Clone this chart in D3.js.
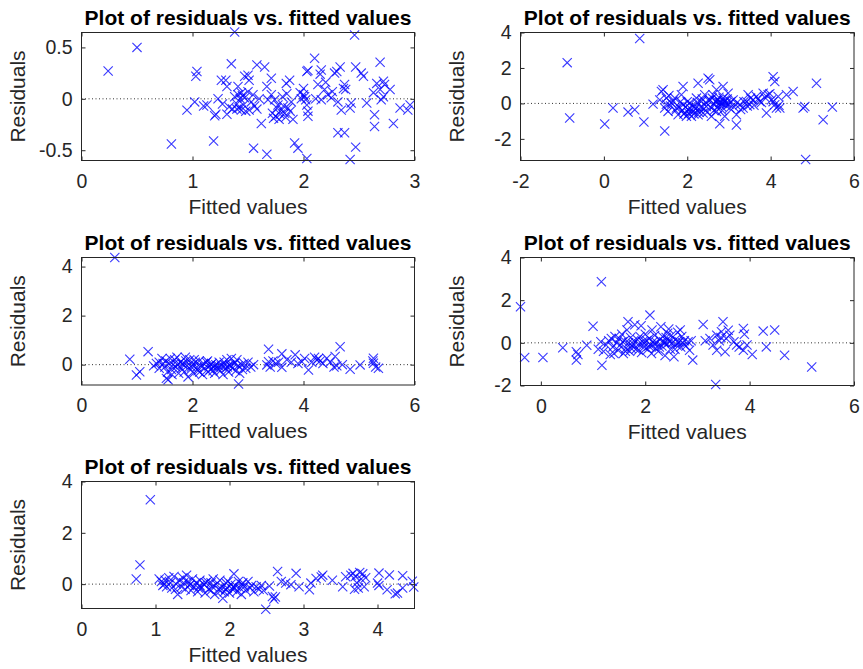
<!DOCTYPE html>
<html>
<head>
<meta charset="utf-8">
<script src="https://cdn.jsdelivr.net/npm/d3@7"></script>
<style>
body { margin: 0; background: #fff; }
svg { display: block; font-family: "Liberation Sans", Arial, Helvetica, sans-serif; }
</style>
</head>
<body>
<div id="chart"></div>
<script>
'use strict';

// fitted value, residual pairs
const resid1 = [
  [0.24,0.27],[0.50,0.50],[0.81,-0.44],[0.95,-0.11],[1.03,0.22],[1.04,0.265],[1.02,-0.03],[1.10,-0.07],[1.13,-0.06],
  [1.19,-0.41],[1.20,-0.165],[1.21,-0.15],[1.23,0.0],[1.26,0.18],[1.30,0.18],[1.31,0.12],[1.31,-0.15],[1.35,0.34],
  [1.38,0.65],[1.41,0.12],[1.27,-0.05],[1.33,-0.08],[1.36,-0.1],[1.38,0.02],[1.40,-0.05],[1.41,0.04],[1.42,-0.09],
  [1.43,0.0],[1.44,-0.11],[1.45,0.03],[1.46,-0.06],[1.47,0.01],[1.48,-0.12],[1.40,-0.1],[1.44,0.06],[1.47,0.22],
  [1.50,0.23],[1.50,0.07],[1.51,-0.11],[1.53,-0.03],[1.545,0.04],[1.56,-0.07],[1.58,0.33],[1.51,0.18],[1.55,-0.48],
  [1.58,-0.1],[1.60,0.0],[1.62,-0.24],[1.67,-0.54],[1.65,0.31],[1.71,0.2],[1.67,0.12],[1.68,-0.01],[1.71,0.04],
  [1.74,-0.01],[1.77,-0.06],[1.80,-0.11],[1.83,-0.14],[1.75,-0.17],[1.78,-0.2],[1.72,-0.14],[1.86,-0.09],[1.89,-0.03],
  [1.81,0.02],[1.85,0.05],[1.76,-0.09],[1.79,-0.15],[1.82,-0.07],[1.84,-0.18],[1.73,-0.19],[1.875,0.18],[1.845,0.15],
  [1.905,-0.2],[1.88,-0.12],[1.92,-0.43],[1.95,-0.48],[2.0,0.1],[2.0,0.04],[2.01,0.02],[1.97,0.06],[1.98,0.0],
  [2.02,-0.01],[2.03,-0.06],[2.04,-0.12],[2.04,-0.17],[2.03,0.265],[2.04,0.275],[2.10,0.395],[2.03,-0.58],[2.13,0.14],
  [2.16,0.28],[2.15,0.24],[2.19,0.09],[2.22,0.04],[2.16,-0.01],[2.25,0.01],[2.28,0.25],[2.30,0.265],[2.33,0.31],
  [2.31,-0.03],[2.34,-0.11],[2.36,0.1],[2.37,0.14],[2.31,-0.33],[2.37,-0.33],[2.42,-0.09],[2.43,-0.04],[2.46,0.62],
  [2.47,0.31],[2.47,-0.47],[2.42,-0.59],[2.52,0.25],[2.54,0.22],[2.57,-0.04],[2.63,0.06],[2.64,-0.155],[2.64,-0.27],
  [2.66,0.15],[2.69,0.356],[2.69,0.09],[2.70,-0.01],[2.72,0.02],[2.72,0.17],[2.73,0.14],[2.78,0.09],[2.81,-0.24],
  [2.87,-0.09],[2.94,-0.11],[2.96,-0.06],[2.38,0.09],[2.20,0.16],[2.26,0.07],[2.11,0.0]
];

const resid2 = [
  [0.86,3.66],[-0.88,2.3],[-0.82,-0.82],[0.22,-0.26],[0.02,-1.16],[0.58,-0.49],[0.74,-0.36],[0.96,-1.05],[1.46,-1.56],
  [4.82,-0.17],[4.78,-0.26],[5.10,1.14],[5.48,-0.2],[5.26,-0.92],[4.84,-3.16],[3.18,-1.22],[2.78,-1.15],
  [1.18,-0.04],[1.34,0.2],[1.42,0.77],[1.38,0.67],[1.50,0.3],[1.46,-0.26],[1.54,-0.45],[1.62,0.02],[1.70,0.3],
  [1.74,-0.26],[1.78,-0.64],[1.90,0.95],[1.86,0.49],[1.90,-0.07],[1.94,-0.54],[1.98,-0.73],[2.02,-0.36],[2.06,0.02],
  [2.10,-0.73],[2.14,-0.45],[2.18,-0.17],[2.22,0.3],[2.26,1.14],[2.26,-0.64],[2.30,-0.36],[2.34,0.11],[2.38,-0.54],
  [2.42,0.49],[2.46,-0.17],[2.50,1.42],[2.54,1.33],[2.54,0.2],[2.58,-0.73],[2.62,0.49],[2.66,-0.07],[2.70,0.77],
  [2.70,-0.45],[2.74,0.2],[2.82,-0.17],[2.86,0.95],[2.86,0.3],[2.90,-0.73],[2.94,0.02],[2.98,0.58],[3.02,-0.26],
  [3.10,0.2],[3.18,-0.64],[3.26,-0.07],[3.34,-0.26],[3.42,0.11],[3.46,0.49],[3.50,-0.07],[3.58,0.2],[3.66,0.39],
  [3.74,0.11],[3.82,0.58],[3.90,-0.54],[3.94,0.49],[4.02,0.2],[4.06,1.51],[4.10,1.23],[4.10,-0.07],[4.14,-0.26],
  [4.22,-0.26],[4.18,0.39],[4.38,0.49],[4.54,0.67],
  [1.60,-0.15],[1.66,0.12],[1.72,-0.4],[1.80,-0.2],[1.84,0.1],[1.88,-0.38],[1.92,-0.6],[1.96,-0.2],[2.00,0.1],
  [2.04,-0.55],[2.08,-0.3],[2.12,-0.1],[2.16,-0.6],[2.20,-0.3],[2.24,0.05],[2.28,-0.5],[2.32,-0.2],[2.36,0.25],
  [2.40,-0.3],[2.44,0.05],[2.48,-0.5],[2.52,0.15],[2.56,-0.2],[2.60,0.3],[2.64,-0.4],[2.68,0.1],[2.72,-0.25],
  [2.76,0.35],[2.80,0.05],[2.84,-0.4],[2.88,0.15],[2.92,-0.1],[2.96,0.25],[3.00,-0.05],[3.05,0.1],[3.12,-0.2],
  [3.20,0.05],[3.28,-0.35],[3.36,0.1],[3.44,-0.15],[3.52,0.3],[3.60,-0.1],[3.70,0.25],[3.78,0.05],[3.86,0.35],
  [3.98,0.55],[4.06,0.1],[4.20,-0.1],[1.50,-0.05],[1.56,0.45],[2.70,0.15],[2.90,0.1],[2.85,0.0],[2.78,0.05]
];

const resid3 = [
  [0.60,4.37],[0.87,0.22],[1.20,0.53],[1.05,-0.29],[0.99,-0.42],[1.53,-0.56],[1.56,-0.62],[2.83,-0.79],
  [1.30,-0.05],[1.35,0.05],[1.40,-0.15],[1.45,0.25],[1.50,-0.1],[1.52,0.15],[1.55,-0.3],[1.58,0.05],[1.60,0.25],
  [1.62,-0.2],[1.65,0.0],[1.68,0.2],[1.70,-0.1],[1.72,0.3],[1.75,-0.35],[1.78,0.1],[1.80,-0.15],[1.82,0.05],
  [1.85,-0.3],[1.88,0.15],[1.90,-0.05],[1.92,-0.5],[1.95,0.2],[1.97,-0.2],[2.00,0.0],[2.02,-0.35],[2.05,0.1],
  [2.08,-0.1],[2.10,-0.25],[2.12,0.15],[2.15,-0.05],[2.18,-0.4],[2.20,0.05],[2.22,-0.15],[2.25,0.1],[2.28,-0.3],
  [2.30,-0.05],[2.32,-0.2],[2.35,0.05],[2.38,-0.1],[2.40,-0.35],[2.42,0.0],[2.45,-0.15],[2.48,0.1],[2.50,-0.25],
  [2.52,-0.05],[2.55,-0.4],[2.58,0.0],[2.60,-0.15],[2.62,0.2],[2.65,-0.3],[2.68,-0.05],[2.70,0.25],[2.72,-0.15],
  [2.75,0.05],[2.78,-0.25],[2.80,0.2],[2.82,-0.05],[2.85,-0.35],[2.88,0.0],[2.90,-0.2],[2.93,0.05],[2.96,-0.15],
  [3.00,0.1],[3.05,-0.1],[3.10,0.0],[1.47,0.05],[1.63,-0.4],[1.73,0.0],[1.87,0.3],[2.03,0.2],[2.13,-0.3],
  [2.27,0.15],[2.37,-0.25],[2.47,-0.05],[2.57,0.1],[2.67,0.0],[2.77,0.08],[2.63,-0.1],[2.33,0.0],[1.98,-0.1],
  [1.83,0.0],[1.40,0.1],
  [3.34,-0.01],[3.37,0.12],[3.37,0.63],[3.40,-0.1],[3.45,0.15],[3.55,0.1],[3.61,0.44],[3.61,-0.11],[3.70,0.2],
  [3.78,0.1],[3.85,0.4],[3.90,0.05],[3.97,0.12],[4.02,0.25],[4.09,-0.22],[4.15,0.1],[4.20,0.3],[4.24,0.19],
  [4.30,0.15],[4.35,0.05],[4.42,0.26],[4.48,0.1],[4.57,0.33],[4.60,-0.05],[4.66,0.73],[4.70,0.0],[4.84,-0.19],
  [5.02,-0.01],[5.26,0.26],[5.26,0.06],[5.30,-0.1],[5.35,-0.15],[5.25,0.15],[4.55,-0.1],[4.27,0.25],[3.50,0.05]
];

const resid4 = [
  [-0.39,1.69],[-0.31,-0.69],[0.04,-0.69],[0.42,-0.23],[0.68,-0.42],[0.68,-0.81],[0.71,-0.55],[0.88,-0.11],
  [1.00,0.78],[1.17,-1.05],[1.16,2.86],[2.09,1.3],[1.67,0.99],
  [1.10,-0.3],[1.15,0.05],[1.20,-0.4],[1.25,-0.1],[1.30,0.1],[1.33,-0.55],[1.38,-0.2],[1.42,0.3],[1.45,0.0],
  [1.48,-0.35],[1.50,0.2],[1.52,-0.1],[1.55,0.4],[1.58,-0.5],[1.60,0.1],[1.63,-0.25],[1.65,0.6],[1.68,0.0],
  [1.70,-0.4],[1.72,0.25],[1.75,-0.15],[1.78,0.1],[1.80,0.85],[1.82,-0.3],[1.85,0.15],[1.88,-0.05],[1.90,0.3],
  [1.93,-0.45],[1.95,0.05],[1.98,-0.2],[2.00,0.4],[2.03,0.1],[2.05,-0.3],[2.08,0.2],[2.10,-0.1],[2.12,-0.5],
  [2.15,0.05],[2.18,0.35],[2.20,-0.25],[2.22,0.0],[2.25,-0.4],[2.28,0.15],[2.30,0.75],[2.32,-0.15],[2.35,0.05],
  [2.38,-0.6],[2.40,0.25],[2.42,-0.05],[2.45,0.1],[2.48,-0.3],[2.50,0.35],[2.52,0.0],[2.55,-0.65],[2.58,0.15],
  [2.60,-0.1],[2.62,0.5],[2.65,0.05],[2.68,-0.2],[2.70,0.3],[2.72,0.0],[2.75,0.1],[2.78,-0.15],[2.82,0.05],
  [2.85,-0.35],[2.88,0.1],[1.35,0.2],[1.40,-0.5],[1.62,-0.4],[1.87,-0.35],[2.07,-0.15],[2.27,-0.2],[2.43,0.45],
  [2.57,-0.3],[2.67,0.6],[1.57,0.05],[1.77,-0.05],[1.97,0.0],[2.17,-0.05],[2.37,0.0],[2.47,0.05],[2.63,0.0],
  [1.73,-0.25],[2.33,0.3],[2.13,0.6],[1.92,0.8],[2.45,0.65],
  [3.11,0.86],[3.24,0.2],[3.30,-0.1],[3.37,0.36],[3.37,-0.35],[3.42,0.1],[3.46,0.52],[3.49,0.99],[3.53,-0.42],
  [3.59,0.59],[3.62,0.36],[3.55,0.2],[3.70,0.05],[3.75,-0.1],[3.80,-0.2],[3.88,0.67],[3.88,-0.35],[3.90,0.4],
  [3.95,-0.1],[4.05,-0.55],[4.26,0.55],[4.32,-0.19],[4.48,0.6],[4.67,-0.58],[5.19,-1.13],[3.35,-1.95],[2.91,-0.81],
  [3.15,0.1],[3.45,0.25]
];

const resid5 = [
  [0.93,3.29],[0.79,0.75],[0.74,0.2],[2.49,-0.98],[2.58,-0.48],[2.60,-0.58],[2.62,-0.5],[2.65,0.49],[2.90,0.42],
  [2.76,0.04],[2.83,-0.02],[2.94,-0.1],[2.70,0.1],[2.54,-0.07],[3.08,-0.22],[3.10,0.04],[3.17,0.22],[3.24,0.28],
  [3.26,0.35],[3.39,0.15],[3.53,-0.1],[3.57,0.29],[3.64,0.35],[3.67,0.42],[3.70,0.3],[3.72,0.05],[3.74,-0.15],
  [3.76,0.45],[3.78,0.2],[3.80,0.4],[3.82,-0.1],[3.84,0.25],[3.69,-0.2],[4.00,0.04],[4.02,0.43],[4.16,0.36],
  [4.13,-0.22],[4.27,-0.35],[4.34,0.33],[4.34,-0.15],[4.47,0.11],[4.49,-0.11],[4.24,-0.38],[4.02,-0.05],
  [1.05,0.2],[1.08,0.1],[1.10,-0.05],[1.13,0.15],[1.15,-0.1],[1.18,0.25],[1.20,0.05],[1.22,-0.15],[1.25,0.3],
  [1.28,0.0],[1.30,-0.4],[1.32,0.15],[1.35,-0.1],[1.38,0.05],[1.40,-0.2],[1.42,0.35],[1.44,0.1],[1.46,-0.05],
  [1.48,-0.25],[1.50,0.2],[1.52,-0.1],[1.55,0.05],[1.57,-0.3],[1.60,0.15],[1.62,-0.15],[1.65,0.0],[1.67,-0.35],
  [1.70,0.1],[1.72,-0.2],[1.75,0.05],[1.77,-0.1],[1.80,-0.4],[1.82,0.0],[1.85,-0.2],[1.87,0.15],[1.90,-0.1],
  [1.91,-0.55],[1.93,-0.3],[1.95,0.05],[1.97,-0.15],[2.00,-0.35],[2.02,0.0],[2.04,-0.2],[2.06,0.4],[2.08,-0.05],
  [2.10,-0.3],[2.12,0.1],[2.14,-0.15],[2.16,-0.4],[2.18,0.05],[2.20,-0.1],[2.22,-0.25],[2.25,0.1],[2.28,-0.15],
  [2.30,-0.05],[2.33,-0.3],[2.36,-0.1],[2.40,-0.2],[2.43,-0.05],[2.46,-0.25],[1.12,0.0],[1.27,-0.2],[1.37,0.25],
  [1.47,0.0],[1.58,-0.15],[1.68,0.05],[1.78,0.2],[1.88,-0.25],[1.98,0.1],[2.07,-0.15],[2.17,0.0],[1.60,-0.05],
  [1.75,-0.25],[1.95,-0.2],[2.05,-0.1]
];

// axis limits and tick labels of each panel
const xLimits = [[0, 3], [-2, 6], [0, 6], [-0.39, 6], [0, 4.5]];
const yLimits = [[-0.6, 0.645], [-3.22, 4], [-0.83, 4.37], [-2, 4], [-0.95, 4]];
const xTicks = [[0, 1, 2, 3], [-2, 0, 2, 4, 6], [0, 2, 4, 6], [0, 2, 4, 6], [0, 1, 2, 3, 4]];
const yTicks = [[-0.5, 0, 0.5], [-2, 0, 2, 4], [0, 2, 4], [-2, 0, 2, 4], [0, 2, 4]];

const titleText = 'Plot of residuals vs. fitted values';
const xLabelText = 'Fitted values';
const yLabelText = 'Residuals';

const width = 863, height = 669;
const axesColor = '#262626';

const svg = d3.select('#chart').append('svg')
    .attr('width', width)
    .attr('height', height);

// panel boxes: left, top, width, height
const boxes = [
    { left: 81.5, top: 32.5, w: 333, h: 128 },
    { left: 520.5, top: 32.5, w: 333.5, h: 128 },
    { left: 81.5, top: 257.5, w: 333, h: 127.5 },
    { left: 520.5, top: 257.5, w: 333.5, h: 128 },
    { left: 81.5, top: 481.5, w: 333, h: 127 }
];

const series = [resid1, resid2, resid3, resid4, resid5];

function fmt(d) {
    return String(d);
}

function drawPanel(i) {
    let box = boxes[i];
    let data = series[i];

    let x = d3.scaleLinear().domain(xLimits[i]).range([0, box.w]);
    let y = d3.scaleLinear().domain(yLimits[i]).range([box.h, 0]);

    let g = svg.append('g')
        .attr('transform', 'translate(' + box.left + ',' + box.top + ')');

    g.append('rect')
        .attr('width', box.w)
        .attr('height', box.h)
        .attr('fill', '#fff');

    // zero reference line
    g.append('line')
        .attr('x1', 0).attr('x2', box.w)
        .attr('y1', y(0)).attr('y2', y(0))
        .attr('stroke', '#333')
        .attr('stroke-width', 1)
        .attr('stroke-dasharray', '1,2.5');

    g.selectAll('.mark').data(data).enter()
        .append('path')
        .attr('class', 'mark')
        .attr('transform', function (d) { return 'translate(' + x(d[0]) + ',' + y(d[1]) + ')'; })
        .attr('d', 'M-4.6,-4.6L4.6,4.6M-4.6,4.6L4.6,-4.6')
        .attr('fill', 'none')
        .attr('stroke', '#0000ff')
        .attr('stroke-opacity', 0.78)
        .attr('stroke-width', 1.1);

    // axes with inward ticks on all four sides
    let bottom = g.append('g')
        .attr('transform', 'translate(0,' + box.h + ')')
        .call(d3.axisBottom(x).tickValues(xTicks[i]).tickFormat(fmt).tickSize(-4).tickPadding(13.5));
    let left = g.append('g')
        .call(d3.axisLeft(y).tickValues(yTicks[i]).tickFormat(fmt).tickSize(-4).tickPadding(9));
    let top = g.append('g')
        .call(d3.axisTop(x).tickValues(xTicks[i]).tickFormat('').tickSize(-4));
    let right = g.append('g')
        .attr('transform', 'translate(' + box.w + ',0)')
        .call(d3.axisRight(y).tickValues(yTicks[i]).tickFormat('').tickSize(-4));

    [bottom, left, top, right].forEach(function (a) {
        a.select('.domain').remove();
        a.selectAll('line').attr('stroke', axesColor);
        a.selectAll('text')
            .attr('fill', axesColor)
            .style('font-size', '19.5px');
    });

    g.append('rect')
        .attr('width', box.w)
        .attr('height', box.h)
        .attr('fill', 'none')
        .attr('stroke', axesColor)
        .attr('stroke-width', 1);

    g.append('text')
        .attr('x', box.w / 2)
        .attr('y', -7.5)
        .attr('text-anchor', 'middle')
        .style('font-size', '21px')
        .style('font-weight', 'bold')
        .attr('fill', '#000')
        .text(titleText);

    g.append('text')
        .attr('x', box.w / 2)
        .attr('y', box.h + 53)
        .attr('text-anchor', 'middle')
        .style('font-size', '21px')
        .attr('fill', axesColor)
        .text(xLabelText);

    g.append('text')
        .attr('transform', 'translate(-57,' + (box.h / 2) + ') rotate(-90)')
        .attr('text-anchor', 'middle')
        .style('font-size', '21px')
        .attr('fill', axesColor)
        .text(yLabelText);
}

for (let i = 0; i < boxes.length; i++) {
    drawPanel(i);
}
</script>
</body>
</html>
